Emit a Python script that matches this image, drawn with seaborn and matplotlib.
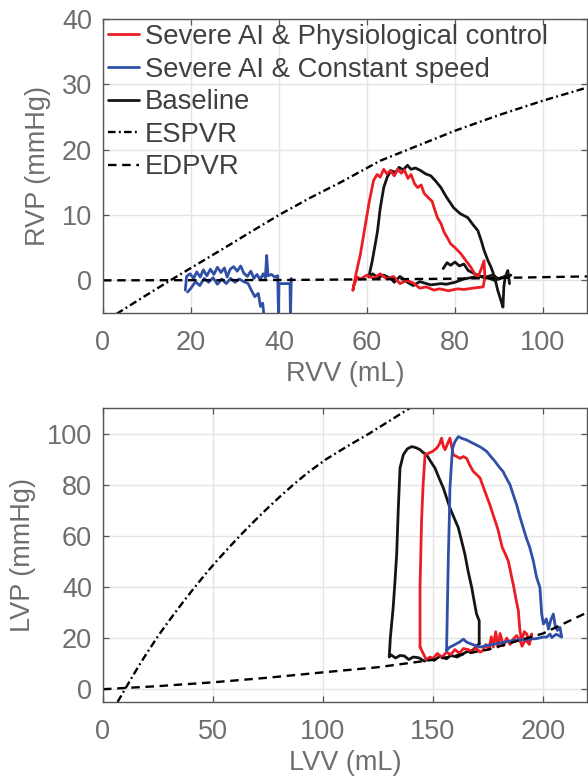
import pandas as pd
import seaborn as sns
import matplotlib.pyplot as plt

# ---- colours / labels
red = "#ec1c24"
blue = "#3050a8"
black = "#151515"
cond_labels = ["Severe AI & Physiological control", "Severe AI & Constant speed", "Baseline"]

# ---- right ventricle (top panel)
rv_phys_v = [56.8, 57.5, 58.5, 59.5, 60.5, 61.5, 62.3, 63.0, 63.8, 64.5, 65.3, 66.2, 67.0, 67.8, 68.5,
             69.3, 70.0, 70.8, 71.5, 72.3, 73.0, 74.0, 74.8, 75.4, 76.0, 76.8, 77.5, 78.2, 79.0, 80.0,
             81.3, 82.5, 83.6, 84.5, 85.2, 86.0, 86.6, 86.8, 86.4, 84.0, 82.0, 80.6, 78.5, 76.5, 75.2,
             73.5, 72.0, 70.5, 69.0, 67.5, 66.0, 64.5, 63.0, 61.5, 60.0, 58.5, 57.8, 57.0, 56.8]
rv_phys_p = [-1.5, 1.0, 4.0, 8.0, 12.0, 15.3, 16.2, 15.8, 17.0, 16.3, 16.8, 16.0, 17.0, 16.4, 16.9,
             15.6, 16.2, 14.8, 14.2, 14.6, 13.3, 12.6, 12.1, 10.8, 9.6, 8.7, 7.4, 6.6, 5.6, 5.0,
             4.1, 3.0, 2.0, 1.0, 0.5, 1.8, 3.0, 0.5, -1.0, -1.2, -1.4, -1.3, -1.6, -1.3, -1.5,
             -1.0, -1.2, -0.4, 0.0, -0.5, 0.6, 0.2, 1.0, 0.3, 0.8, 0.2, 0.5, -0.8, -1.5]

rv_const_v = [18.7, 19.0, 19.8, 20.6, 21.3, 22.1, 22.8, 23.6, 24.4, 25.2, 26.0, 26.8, 27.6, 28.2, 28.9,
              29.7, 30.5, 31.3, 32.0, 32.8, 33.6, 34.3, 35.0, 35.7, 36.4, 36.9, 37.2, 37.5, 38.3, 39.0,
              39.7, 39.9, 40.0, 42.5, 42.6, 42.8]
rv_const_p = [-1.5, 0.6, 1.0, 0.3, 1.3, 0.5, 1.6, 0.7, 1.7, 0.9, 2.0, 1.2, 1.9, 0.5, 1.7,
              2.1, 1.4, 2.2, 1.1, 0.6, 1.4, 0.3, 0.9, 0.1, 1.0, 0.4, 3.8, 0.7, 0.9, 0.5,
              0.7, -5.5, -0.5, -0.5, -5.5, 0.3]
rv_const_v2 = [19.2, 20.0, 21.0, 22.0, 23.0, 24.0, 25.0, 26.0, 27.0, 28.0, 29.0, 30.0, 31.0, 32.0, 33.0,
               33.7, 34.5, 35.3, 35.8, 36.3, 36.6]
rv_const_p2 = [-1.8, -1.2, -0.2, -0.8, 0.3, -0.3, 0.4, -0.6, 0.2, -0.5, 0.3, -0.3, 0.2, -0.2, -0.5,
               -1.5, -2.5, -2.0, -4.0, -3.5, -5.5]

rv_base_v = [77.3, 78.2, 79.0, 80.0, 81.0, 82.0, 83.0, 84.5, 86.5, 88.5, 90.0, 91.5, 92.7, 91.0, 89.0,
             86.5, 84.3, 82.0, 80.0, 78.0, 76.8, 74.5, 72.0, 70.5, 69.2, 67.5, 66.2, 65.4, 63.8, 62.5,
             61.3, 60.4, 61.2, 62.0, 62.4, 63.0, 63.8, 64.6, 65.4, 66.5, 67.3, 68.2, 69.2, 70.0, 71.0,
             72.2, 73.3, 74.5, 75.6, 76.8, 78.0, 79.7, 81.2, 82.9, 84.0, 85.2, 86.0, 86.6, 87.5, 88.2,
             89.0, 89.7, 90.4, 90.9, 91.1, 91.4, 92.0, 92.4]
rv_base_p = [1.8, 2.7, 2.3, 2.8, 2.2, 2.5, 1.5, 1.0, 0.4, 0.8, 0.2, 0.6, 0.8, 0.5, 0.0,
             0.6, 0.5, 0.2, -0.3, -0.6, -0.5, -0.7, -0.2, -0.8, -0.3, 0.6, -0.3, 0.3, 0.8, 0.4,
             1.0, 0.5, 3.0, 6.0, 7.6, 11.0, 14.2, 15.8, 16.8, 16.5, 17.3, 16.9, 17.6, 17.0, 17.2,
             16.8, 16.3, 16.0, 15.2, 14.2, 12.8, 11.1, 10.2, 9.6, 8.6, 7.6, 6.0, 4.6, 3.0, 2.0,
             0.5, -1.5, -3.0, -4.1, -1.0, 0.5, 1.5, -0.5]

rv_es_v = [0.0, 3.4, 9.3, 15.3, 21.5, 27.7, 33.8, 40.0, 47.0, 54.0, 63.0, 71.5, 80.0, 90.0, 100.0, 110.0]
rv_es_p = [-6.5, -5.0, -2.5, 0.0, 2.5, 5.0, 7.5, 10.0, 12.6, 15.0, 18.3, 20.6, 22.9, 25.3, 27.5, 29.5]
rv_ed_v = [0.0, 40.0, 80.0, 110.0]
rv_ed_p = [0.0, 0.05, 0.25, 0.6]

# ---- left ventricle (bottom panel)
lv_phys_v = [144.1, 144.1, 144.8, 145.5, 146.4, 147.9, 149.8, 151.7, 153.0, 153.9, 154.7, 155.5, 156.6, 157.7,
             158.5, 159.2, 160.8, 162.3, 163.8, 165.3, 166.8, 168.3, 169.8, 171.4, 172.9, 174.4, 175.9,
             177.4, 178.6, 179.7, 180.6, 181.5, 182.8, 184.2, 185.0, 185.8, 186.6, 187.3, 188.0, 188.8,
             189.5, 190.3, 191.5, 192.6, 193.5, 194.9, 193.8, 192.0, 190.5, 189.5, 188.0, 186.5, 185.0,
             183.5, 182.0, 180.5, 179.5, 178.5, 177.4, 176.5, 175.5, 174.0, 172.5, 171.4, 169.5, 168.0,
             166.0, 163.8, 162.0, 160.0, 158.0, 156.2, 154.0, 152.0, 150.0, 148.6, 147.0, 145.6, 144.1]
lv_phys_p = [16.5, 39.8, 65.8, 80.0, 91.7, 92.3, 93.0, 94.3, 96.0, 98.2, 95.0, 93.7, 96.0, 98.2,
             95.0, 91.7, 91.0, 90.3, 91.0, 90.3, 87.5, 85.2, 84.0, 82.6, 79.0, 75.5, 72.0,
             68.0, 65.0, 61.9, 58.5, 55.4, 53.0, 50.2, 47.0, 43.7, 40.5, 37.2, 34.0, 30.7,
             23.0, 19.1, 22.5, 21.6, 19.0, 21.6, 17.5, 19.5, 16.8, 19.1, 21.0, 19.6, 17.5,
             20.0, 17.0, 21.8, 16.5, 22.5, 16.5, 20.5, 15.5, 17.5, 15.0, 14.5, 16.2, 14.5,
             15.5, 15.9, 14.0, 15.5, 13.5, 14.5, 12.5, 14.0, 12.0, 12.6, 11.5, 13.9, 16.5]

lv_const_v = [156.2, 156.2, 156.6, 157.0, 157.4, 157.7, 158.3, 158.9, 160.0, 161.5, 163.5, 165.3, 167.5,
              169.8, 172.0, 174.4, 176.3, 178.2, 180.0, 181.8, 183.4, 185.0, 186.5, 188.0, 189.5, 191.0,
              192.5, 194.0, 195.6, 197.1, 198.6, 199.4, 200.2, 201.5, 202.5, 203.5, 204.7, 205.5, 206.5,
              207.7, 208.5, 206.0, 204.0, 203.2, 201.7, 200.2, 197.0, 194.0, 190.0, 186.5, 183.0, 178.9,
              175.0, 171.4, 168.0, 165.3, 163.8, 162.2, 160.7, 159.0, 157.7, 156.2]
lv_const_p = [15.2, 16.5, 35.0, 52.8, 66.0, 78.7, 87.0, 94.3, 96.9, 98.8, 98.0, 97.5, 96.5,
              95.5, 94.5, 93.0, 91.0, 89.1, 87.0, 85.2, 82.5, 80.0, 76.0, 72.2, 67.5, 63.2,
              59.0, 55.4, 50.2, 43.7, 39.8, 29.4, 25.5, 27.5, 23.5, 27.0, 29.4, 25.0, 23.0,
              24.2, 20.4, 21.5, 20.2, 21.6, 20.4, 20.4, 19.8, 19.6, 19.3, 19.1, 18.5, 17.8,
              17.2, 16.5, 17.5, 18.4, 19.6, 18.5, 17.8, 17.0, 16.5, 15.2]

lv_base_v = [171.0, 168.0, 165.0, 163.8, 161.0, 158.0, 156.2, 153.0, 150.5, 148.6, 146.0, 143.5, 141.0,
             139.0, 137.0, 135.0, 133.0, 131.0, 130.1, 130.6, 131.9, 132.7, 133.5, 134.2, 135.0, 136.5,
             138.3, 140.3, 142.2, 144.1, 145.5, 147.1, 149.0, 150.9, 152.8, 154.7, 156.2, 157.7, 159.6,
             161.5, 163.0, 164.5, 166.0, 167.6, 168.8, 169.8, 171.0, 171.0]
lv_base_p = [17.8, 15.2, 14.5, 13.9, 12.6, 13.2, 11.9, 12.8, 11.3, 12.0, 11.0, 12.3, 12.6,
             11.6, 13.0, 13.2, 12.2, 13.4, 12.6, 20.0, 32.0, 42.0, 52.9, 70.0, 86.5, 91.7,
             94.0, 94.9, 94.5, 93.7, 92.6, 91.7, 89.0, 86.5, 82.5, 78.7, 74.8, 70.9, 67.0,
             63.2, 58.0, 52.8, 46.0, 39.8, 34.0, 29.4, 26.8, 17.8]

lv_es_v = [6.6, 10.0, 13.4, 16.9, 20.6, 24.4, 28.5, 32.8, 37.2, 41.8, 46.5, 51.5, 56.8, 62.2, 67.9,
           73.8, 80.0, 86.5, 93.5, 101.5, 111.0, 121.0, 130.3, 139.5, 148.5]
lv_es_p = [-5.0, 0.0, 5.0, 10.0, 15.0, 20.0, 25.0, 30.0, 35.0, 40.0, 45.0, 50.0, 55.0, 60.0, 65.0,
           70.0, 75.0, 80.0, 85.0, 90.0, 95.0, 100.0, 105.0, 110.0, 115.0]
lv_ed_v = [0.0, 25.0, 50.0, 75.0, 100.0, 125.0, 150.0, 175.0, 200.0, 220.0]
lv_ed_p = [0.0, 1.2, 2.7, 4.5, 6.6, 8.6, 11.5, 15.5, 21.8, 30.0]


def loops_df(v_lists, p_lists):
    frames = []
    for i, (v, p) in enumerate(zip(v_lists, p_lists)):
        frames.append(pd.DataFrame({"vol": v, "pres": p, "seg": i}))
    return pd.concat(frames, ignore_index=True)


sns.set_theme(style="whitegrid")
plt.rcParams["font.family"] = ["Liberation Sans", "DejaVu Sans"]
fs = 19.5

tick_col = "#6e6e6e"
spine_col = "#555555"
es_style = (0, (3.2, 1.4, 0.8, 1.4))
ed_style = (0, (3.6, 2.4))

fig = plt.figure(figsize=(5.88, 7.80), dpi=100)
ax1 = fig.add_axes([103 / 588, 1 - 313 / 780, 484 / 588, 294 / 780])
ax2 = fig.add_axes([103 / 588, 1 - 702 / 780, 484 / 588, 294 / 780])


def draw_panel(ax, base, phys, const, es, ed):
    # baseline first so the AI loops sit on top of it
    hs = {}
    for key, col, segs in [("base", black, base), ("phys", red, phys), ("const", blue, const)]:
        d = loops_df(*segs)
        sns.lineplot(data=d, x="vol", y="pres", units="seg", estimator=None, sort=False,
                     color=col, lw=2.0, ax=ax, legend=False)
        hs[key] = ax.lines[-1]
    sns.lineplot(x=es[0], y=es[1], sort=False, color="black", lw=1.7, linestyle=es_style, ax=ax)
    hs["es"] = ax.lines[-1]
    sns.lineplot(x=ed[0], y=ed[1], sort=False, color="black", lw=1.7, linestyle=ed_style, ax=ax)
    hs["ed"] = ax.lines[-1]
    return hs


h1 = draw_panel(ax1,
                ([rv_base_v], [rv_base_p]),
                ([rv_phys_v], [rv_phys_p]),
                ([rv_const_v, rv_const_v2], [rv_const_p, rv_const_p2]),
                (rv_es_v, rv_es_p), (rv_ed_v, rv_ed_p))
h2 = draw_panel(ax2,
                ([lv_base_v], [lv_base_p]),
                ([lv_phys_v], [lv_phys_p]),
                ([lv_const_v], [lv_const_p]),
                (lv_es_v, lv_es_p), (lv_ed_v, lv_ed_p))

ax1.set_xlim(0, 110)
ax1.set_ylim(-5, 40)
ax1.set_xticks([0, 20, 40, 60, 80, 100])
ax1.set_yticks([0, 10, 20, 30, 40])
ax1.set_xlabel("RVV (mL)", fontsize=fs, color=tick_col, labelpad=4)
ax1.set_ylabel("RVP (mmHg)", fontsize=fs, color=tick_col, labelpad=8)

ax2.set_xlim(0, 220)
ax2.set_ylim(-5, 110)
ax2.set_xticks([0, 50, 100, 150, 200])
ax2.set_yticks([0, 20, 40, 60, 80, 100])
ax2.set_xlabel("LVV (mL)", fontsize=fs, color=tick_col, labelpad=4)
ax2.set_ylabel("LVP (mmHg)", fontsize=fs, color=tick_col, labelpad=8)

for ax in (ax1, ax2):
    ax.set_facecolor("white")
    ax.grid(True, color="#e4e4e4", lw=1.0)
    ax.set_axisbelow(True)
    for s in ax.spines.values():
        s.set_visible(True)
        s.set_color(spine_col)
        s.set_linewidth(1.0)
    ax.tick_params(axis="both", direction="in", length=4, width=0.9, color=spine_col,
                   labelcolor=tick_col, labelsize=fs, top=True, right=True,
                   bottom=True, left=True)
    ax.tick_params(axis="x", pad=12)
    ax.tick_params(axis="y", pad=8)

ax1.legend([h1["phys"], h1["const"], h1["base"], h1["es"], h1["ed"]],
           cond_labels + ["ESPVR", "EDPVR"],
           loc="upper left", frameon=False, fontsize=19.8, labelcolor="#404040",
           handlelength=1.13, handletextpad=0.2, borderaxespad=0.08, borderpad=0.1,
           labelspacing=0.24)

fig.savefig("out.png", dpi=100)
